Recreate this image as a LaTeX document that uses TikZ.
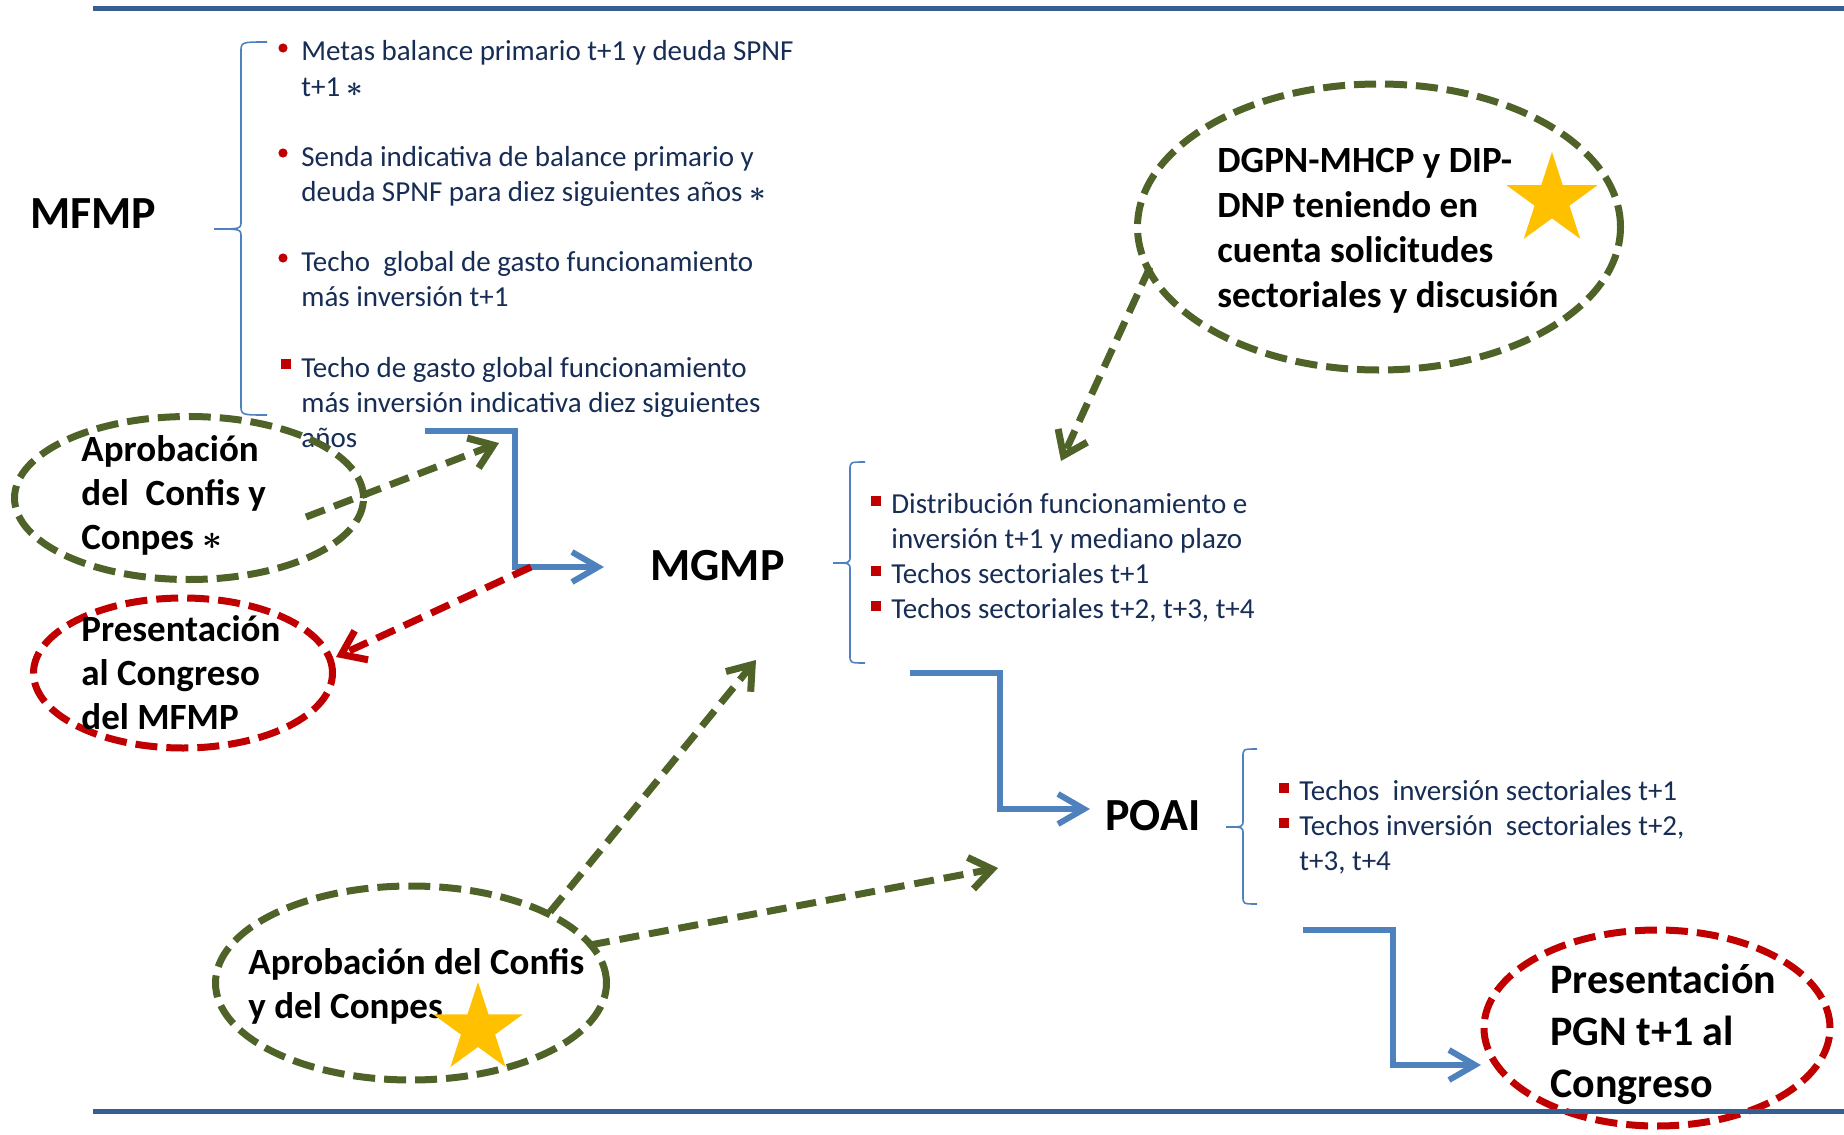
\documentclass[tikz,border=0pt]{standalone}
\usepackage{fontspec}
\setmainfont{Carlito}
\usetikzlibrary{shapes.geometric, arrows.meta, positioning}
\definecolor{rulecol}{RGB}{54,95,145}
\definecolor{flowblue}{RGB}{79,129,189}
\definecolor{olivegreen}{RGB}{79,98,40}
\definecolor{darkred}{RGB}{192,0,0}
\definecolor{txtnavy}{RGB}{23,45,85}
\definecolor{gold}{RGB}{255,192,0}
\newcommand{\boldast}{{\boldmath$\ast$}}
\tikzset{
	hrule/.style={draw=rulecol, line width=2.5pt},
	heading/.style={font=\fontsize{23}{27}\selectfont\bfseries, inner sep=0pt, anchor=base west},
	item/.style={font=\fontsize{14.5}{17.5}\selectfont, text=txtnavy, align=left, inner sep=0pt, anchor=base west},
	dotbul/.style={circle, fill=darkred, inner sep=0pt, minimum size=4.6pt},
	sqbul/.style={rectangle, fill=darkred, inner sep=0pt, minimum size=4.8pt},
	bracket/.style={draw=flowblue, line width=0.8pt},
	oval/.style={ellipse, draw, line width=3.5pt, dash pattern=on 11pt off 4.5pt, inner sep=0pt},
	ovaltext/.style={font=\fontsize{18.5}{22}\selectfont\bfseries, align=left, inner sep=0pt, anchor=base west},
	flow/.style={draw=flowblue, line width=3pt, -{Straight Barb[length=13pt, width=15pt]}},
	link/.style={line width=3.5pt, dash pattern=on 10pt off 5pt, -{Straight Barb[length=11pt, width=16pt]}},
	goldstar/.style={star, star points=5, star point ratio=2.618, fill=gold, inner sep=0pt}
}

\begin{document}
\begin{tikzpicture}[x=0.5pt, y=-0.5pt]
	\useasboundingbox (0,0) rectangle (1844,1135);

	% MFMP and its list (text nodes placed at the baseline of their last line)
	\node[heading] (mfmp) at (30,228) {MFMP};
	\draw[bracket] (267,42) .. controls (241,42) .. (241,52) -- (241,221)
		.. controls (241,229) .. (214,229) .. controls (241,229) .. (241,237)
		-- (241,405) .. controls (241,415) .. (267,415);
	\node[dotbul] (mb1) at (283,48) {};
	\node[item] (m1) at (301,96) {Metas balance primario t+1 y deuda SPNF\\t+1 \boldast};
	\node[dotbul] (mb2) at (283,153) {};
	\node[item] (m2) at (301,201) {Senda indicativa de balance primario y\\deuda SPNF para diez siguientes años \boldast};
	\node[dotbul] (mb3) at (283,258) {};
	\node[item] (m3) at (301,306) {Techo\ \ global de gasto funcionamiento\\más inversión t+1};
	\node[sqbul] (mb4) at (286,364) {};
	\node[item] (m4) at (301,447) {Techo de gasto global funcionamiento\\más inversión indicativa diez siguientes\\años};

	% Approval and presentation of the MFMP
	\node[oval, draw=olivegreen, minimum width=174.5pt, minimum height=81.5pt] (apr1) at (189,498) {};
	\node[ovaltext] (apr1t) at (81,549) {Aprobación\\del\ \ Confis y\\Conpes \boldast};
	\node[oval, draw=darkred, minimum width=149.5pt, minimum height=75pt] (pres1) at (183,673) {};
	\node[ovaltext] (pres1t) at (81,729) {Presentación\\al Congreso\\del MFMP};

	% MGMP and its list
	\node[heading] (mgmp) at (650,580) {MGMP};
	\draw[bracket] (865,462) .. controls (850,462) .. (850,470) -- (850,556)
		.. controls (850,563) .. (833,563) .. controls (850,563) .. (850,570)
		-- (850,655) .. controls (850,663) .. (865,663);
	\node[sqbul] (gb1) at (876,501) {};
	\node[item] (g1) at (891,548) {Distribución funcionamiento e\\inversión t+1 y mediano plazo};
	\node[sqbul] (gb2) at (876,571) {};
	\node[item] (g2) at (891,583) {Techos sectoriales t+1};
	\node[sqbul] (gb3) at (876,606) {};
	\node[item] (g3) at (891,618) {Techos sectoriales t+2, t+3, t+4};

	% POAI and its list
	\node[heading] (poai) at (1105,830) {POAI};
	\draw[bracket] (1257,749) .. controls (1243,749) .. (1243,757) -- (1243,820)
		.. controls (1243,827) .. (1226,827) .. controls (1243,827) .. (1243,834)
		-- (1243,896) .. controls (1243,904) .. (1257,904);
	\node[sqbul] (pb1) at (1284,788) {};
	\node[item] (p1) at (1299,800) {Techos\ \ inversión sectoriales t+1};
	\node[sqbul] (pb2) at (1284,823) {};
	\node[item] (p2) at (1299,870) {Techos inversión\ \ sectoriales t+2,\\t+3, t+4};

	% DGPN-MHCP and DIP-DNP
	\node[oval, draw=olivegreen, minimum width=241.5pt, minimum height=143pt] (dgpn) at (1379,227) {};
	\node[ovaltext, font=\fontsize{18.5}{22.5}\selectfont\bfseries] (dgpnt) at (1217,307) {DGPN-MHCP y DIP-\\DNP teniendo en\\cuenta solicitudes\\sectoriales y discusión};
	\node[goldstar, minimum size=48pt] (star1) at (1552,200) {};

	% Approval of Confis and Conpes
	\node[oval, draw=olivegreen, minimum width=195.5pt, minimum height=97pt] (apr2) at (411,983) {};
	\node[ovaltext] (apr2t) at (248,1018) {Aprobación del Confis\\y del Conpes};
	\node[goldstar, minimum size=47pt] (star2) at (478,1029) {};

	% Presentation of the PGN
	\node[oval, draw=darkred, minimum width=173pt, minimum height=98pt] (pres2) at (1657,1028) {};
	\node[ovaltext, font=\fontsize{21}{26}\selectfont\bfseries] (pres2t) at (1550,1097) {Presentación\\PGN t+1 al\\Congreso};

	% Flow points
	\coordinate (f1a) at (425,431);
	\coordinate (f1b) at (515,567);
	\coordinate (f1c) at (604,567);
	\coordinate (f2a) at (910,673);
	\coordinate (f2b) at (1000,809);
	\coordinate (f2c) at (1090,809);
	\coordinate (f3a) at (1303,930);
	\coordinate (f3b) at (1393,1065);
	\coordinate (f3c) at (1481,1065);
	\coordinate (la1) at (306,517);
	\coordinate (la2) at (499,443);
	\coordinate (lr1) at (531,567);
	\coordinate (lr2) at (336,657);
	\coordinate (lb1) at (1150,267);
	\coordinate (lb2) at (1061,461);
	\coordinate (lc1) at (550,912);
	\coordinate (lc2) at (756,660);
	\coordinate (ld1) at (590,945);
	\coordinate (ld2) at (998,868);

	% Arrows
	\draw[flow] (f1a) -| (f1b) -- (f1c);
	\draw[flow] (f2a) -| (f2b) -- (f2c);
	\draw[flow] (f3a) -| (f3b) -- (f3c);
	\draw[link, olivegreen] (la1) -- (la2);
	\draw[link, darkred] (lr1) -- (lr2);
	\draw[link, olivegreen] (lb1) -- (lb2);
	\draw[link, olivegreen] (lc1) -- (lc2);
	\draw[link, olivegreen] (ld1) -- (ld2);

	% Rules
	\coordinate (t1) at (93,8);
	\coordinate (t2) at (1844,8);
	\coordinate (b1) at (93,1111);
	\coordinate (b2) at (1844,1111);
	\draw[hrule] (t1) -- (t2);
	\draw[hrule] (b1) -- (b2);
\end{tikzpicture}
\end{document}
